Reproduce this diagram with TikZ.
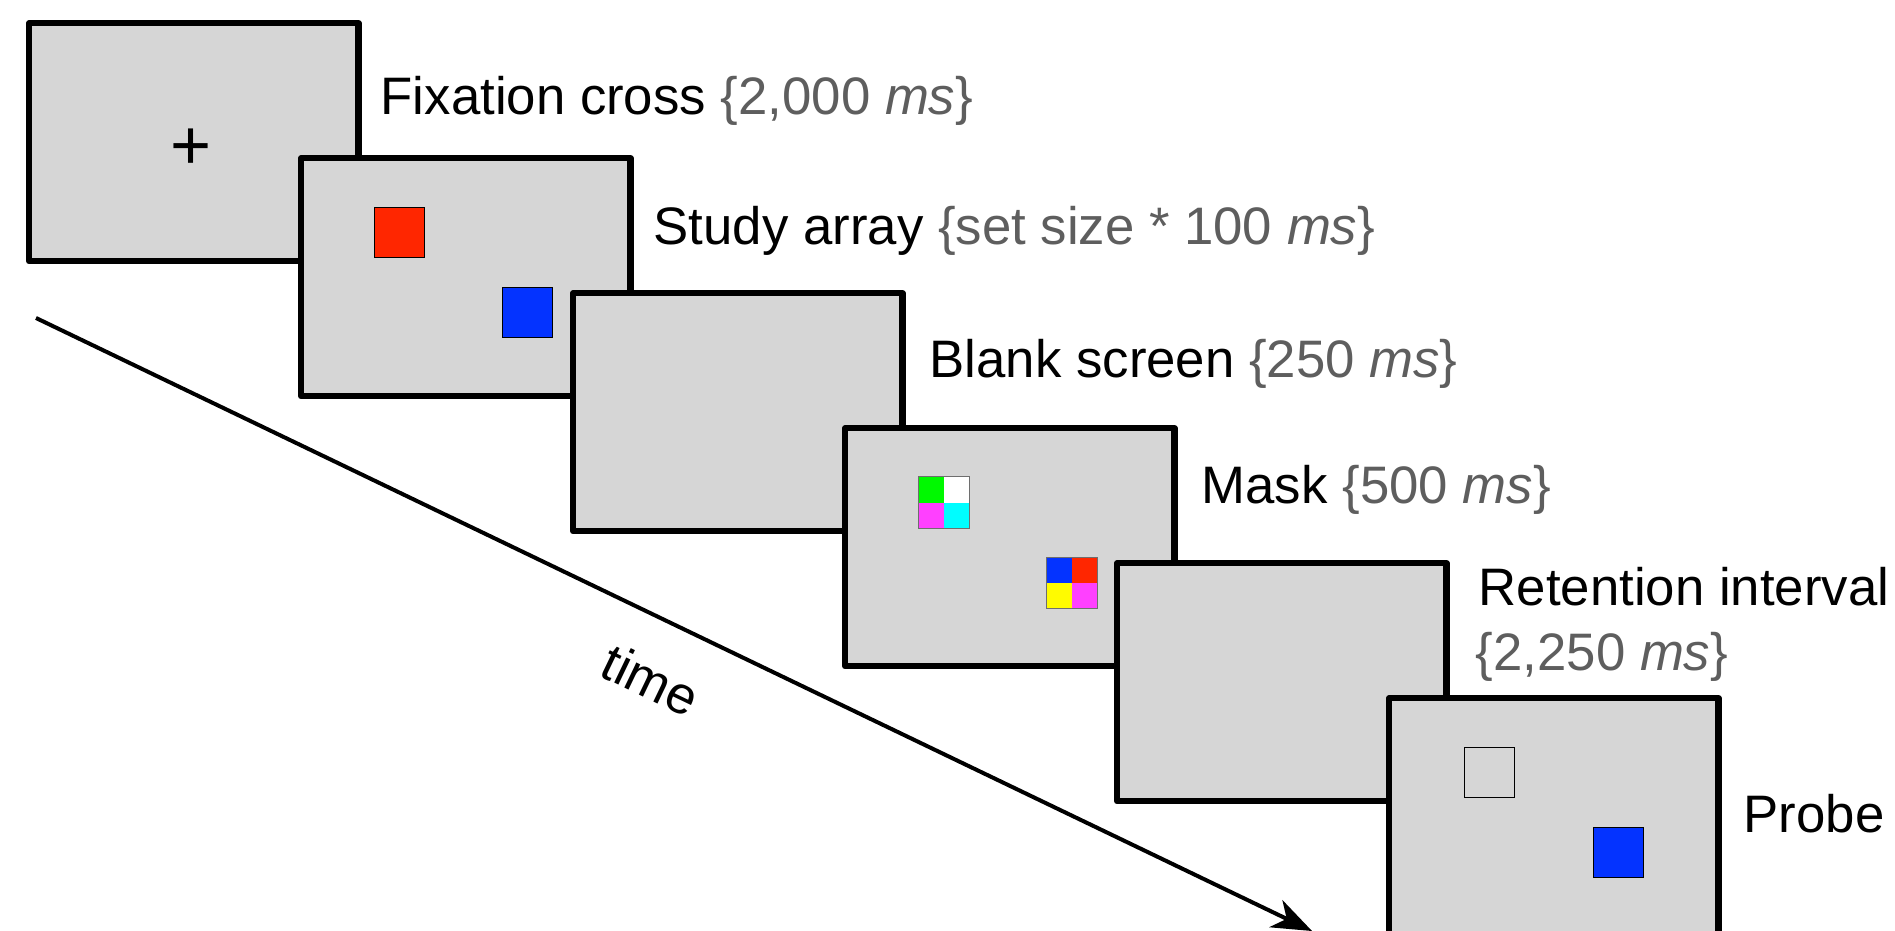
\documentclass[tikz,border=0pt]{standalone}
\usepackage{fontspec}
\setmainfont{Liberation Sans}
\usetikzlibrary{arrows.meta,positioning}

\definecolor{screengray}{RGB}{214,214,214}
\definecolor{durgray}{RGB}{94,94,94}
\definecolor{patchedge}{RGB}{110,110,110}
\definecolor{cred}{RGB}{255,38,0}
\definecolor{cblue}{RGB}{4,51,255}
\definecolor{cgreen}{RGB}{0,249,0}
\definecolor{ccyan}{RGB}{0,253,255}
\definecolor{cmagenta}{RGB}{255,64,255}
\definecolor{cyellow}{RGB}{255,251,0}

% a 2x2 colour patch of the mask: name, position, then TL TR BL BR
\newcommand{\maskpatch}[6]{
	\node[item] (#1) at (#2) {};
	\fill[#3] (#1.north west) rectangle (#1.center);
	\fill[#4] (#1.north) rectangle (#1.east);
	\fill[#5] (#1.west) rectangle (#1.south);
	\fill[#6] (#1.center) rectangle (#1.south east);
	\draw[line width=0.01cm, draw=patchedge] (#1.north west) rectangle (#1.south east);
}

\begin{document}
\begin{tikzpicture}[x=0.01cm, y=-0.01cm,
		screen/.style={draw, line width=0.063cm, line join=round, fill=screengray,
			minimum width=3.29cm, minimum height=2.38cm, inner sep=0pt, anchor=north west},
		item/.style={draw, line width=0.013cm, minimum size=0.5cm, inner sep=0pt, anchor=north west},
		lbl/.style={anchor=base west, inner sep=0pt, font=\fontsize{15}{18}\selectfont},
		dur/.style={text=durgray}]
		
		\useasboundingbox (0,0) rectangle (1895,931);
		
		% the six screens, each one a step further in time
		\foreach \i in {0,...,5}
			\node[screen] (s\i) at (26+272*\i, 20+135*\i) {};
		
		% fixation cross
		\node[font=\fontsize{20}{24}\selectfont, inner sep=0pt] (cross) at ([shift={(165,129)}]s0.north west) {+};
		
		% study array
		\node[item, fill=cred] (sred) at ([shift={(76,52)}]s1.north west) {};
		\node[item, fill=cblue] (sblue) at ([shift={(204,132)}]s1.north west) {};
		
		% mask
		\maskpatch{mtop}{[shift={(76,52)}]s3.north west}{cgreen}{white}{cmagenta}{ccyan}
		\maskpatch{mbot}{[shift={(204,132)}]s3.north west}{cblue}{cred}{cyellow}{cmagenta}
		
		% probe
		\node[item] (pempty) at ([shift={(78,52)}]s5.north west) {};
		\node[item, fill=cblue] (pblue) at ([shift={(207,132)}]s5.north west) {};
		
		% labels
		\node[lbl] (fixlbl) at (380,115) {Fixation cross \textcolor{durgray}{\{2,000 \textit{ms}\}}};
		\node[lbl] (studylbl) at (653,245) {Study array \textcolor{durgray}{\{set size * 100 \textit{ms}\}}};
		\node[lbl] (blanklbl) at (929,378) {Blank screen \textcolor{durgray}{\{250 \textit{ms}\}}};
		\node[lbl] (masklbl) at (1201,503) {Mask \textcolor{durgray}{\{500 \textit{ms}\}}};
		\node[lbl] (retlbl) at (1478,605) {Retention interval};
		\node[lbl, dur] (retdur) at (1475,670) {\{2,250 \textit{ms}\}};
		\node[lbl] (probelbl) at (1743,832) {Probe};
		
		% time axis
		\coordinate (t0) at (36,318);
		\coordinate (t1) at (1312,931);
		\draw[line width=0.04cm, -{Stealth[length=0.4cm, width=0.3cm, inset=0.12cm]}] (t0) -- (t1);
		\node[font=\fontsize{15}{18}\selectfont, inner sep=0pt, rotate=-25.7] (timelbl) at (651,680) {time};
		
\end{tikzpicture}
\end{document}
